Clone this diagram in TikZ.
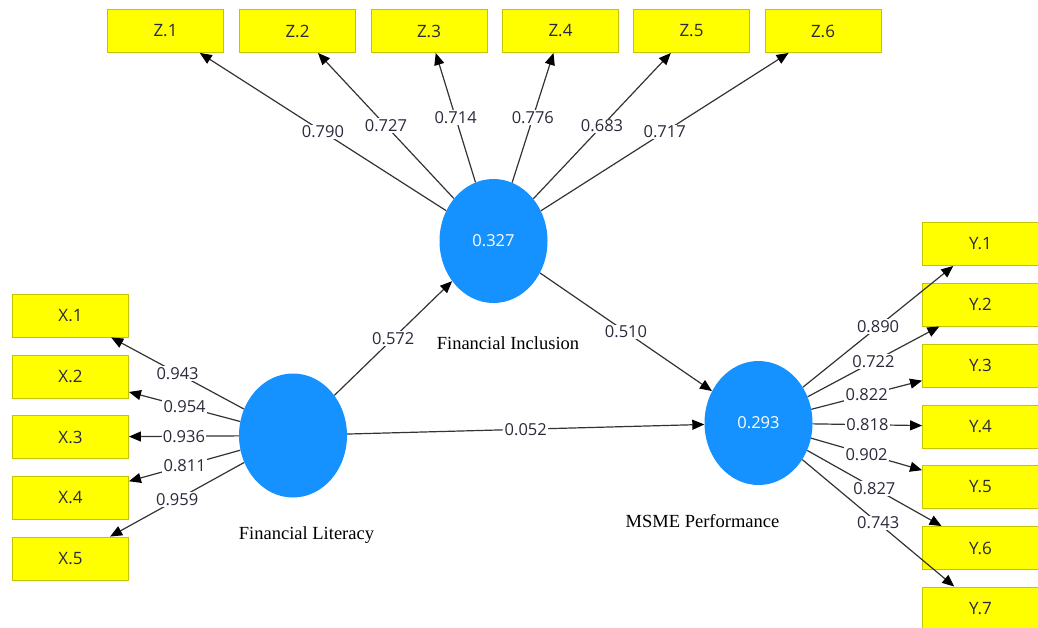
\documentclass[tikz,border=0pt]{standalone}
\usepackage{fontspec}
\setmainfont{Liberation Serif}
\newfontfamily\uifont{Open Sans}
\usetikzlibrary{shapes.geometric,arrows.meta}
\definecolor{latentblue}{HTML}{1592FF}
\definecolor{itemfill}{HTML}{FFFF00}
\definecolor{itemedge}{HTML}{C4C400}
\definecolor{linkgray}{HTML}{333333}
\definecolor{numink}{HTML}{2A2A3C}
\tikzset{
  item/.style={draw=itemedge, fill=itemfill, line width=0.9pt,
    minimum width=116pt, minimum height=43pt, inner sep=0pt,
    font=\uifont\fontsize{17}{19}\selectfont, text=numink},
  latent/.style={ellipse, fill=latentblue, draw=none,
    minimum width=108pt, minimum height=124pt, inner sep=0pt,
    font=\uifont\fontsize{16.5}{18}\selectfont, text=white},
  link/.style={draw=linkgray, line width=1.2pt,
    -{Triangle[length=12pt,width=10pt,color=black]}},
  val/.style={fill=white, inner sep=1.2pt, text=numink,
    font=\uifont\fontsize{16.5}{18}\selectfont},
  construct/.style={font=\fontsize{18.5}{20}\selectfont, text=black}
}
\begin{document}
\begin{tikzpicture}[x=1pt,y=-1pt]
\useasboundingbox (0,0) rectangle (1038,628);
\clip (0,0) rectangle (1038,628);

% latent variables
\node[latent] (fi) at (493.5,241) {0.327};
\node[latent] (fl) at (293,435.5) {};
\node[latent] (ms) at (758.5,423) {0.293};

\node[construct] (finame) at (508,343) {Financial Inclusion};
\node[construct] (flname) at (306.5,535) {Financial Literacy};
\node[construct] (msname) at (702.5,521) {MSME Performance};

% indicators of Financial Inclusion
\node[item] (z1) at (165.5,31) {Z.1};
\node[item] (z2) at (297.5,31) {Z.2};
\node[item] (z3) at (429,31) {Z.3};
\node[item] (z4) at (560.5,31) {Z.4};
\node[item] (z5) at (691.5,31) {Z.5};
\node[item] (z6) at (823,31) {Z.6};

% indicators of Financial Literacy
\node[item] (x1) at (70.5,315.5) {X.1};
\node[item] (x2) at (70.5,376.5) {X.2};
\node[item] (x3) at (70.5,437) {X.3};
\node[item] (x4) at (70.5,497.5) {X.4};
\node[item] (x5) at (70.5,558.5) {X.5};

% indicators of MSME Performance
\node[item] (y1) at (980.5,244) {Y.1};
\node[item] (y2) at (980.5,304.5) {Y.2};
\node[item] (y3) at (980.5,365.5) {Y.3};
\node[item] (y4) at (980.5,426.5) {Y.4};
\node[item] (y5) at (980.5,487) {Y.5};
\node[item] (y6) at (980.5,548) {Y.6};
\node[item] (y7) at (980.5,608.5) {Y.7};

% outer loadings
\draw[link] (fi) -- node[val] {0.790} (z1);
\draw[link] (fi) -- node[val] {0.727} (z2);
\draw[link] (fi) -- node[val] {0.714} (z3);
\draw[link] (fi) -- node[val] {0.776} (z4);
\draw[link] (fi) -- node[val] {0.683} (z5);
\draw[link] (fi) -- node[val] {0.717} (z6);

\draw[link] (fl) -- node[val] {0.943} (x1);
\draw[link] (fl) -- node[val] {0.954} (x2);
\draw[link] (fl) -- node[val] {0.936} (x3);
\draw[link] (fl) -- node[val] {0.811} (x4);
\draw[link] (fl) -- node[val] {0.959} (x5);

\draw[link] (ms) -- node[val] {0.890} (y1);
\draw[link] (ms) -- node[val] {0.722} (y2);
\draw[link] (ms) -- node[val] {0.822} (y3);
\draw[link] (ms) -- node[val] {0.818} (y4);
\draw[link] (ms) -- node[val] {0.902} (y5);
\draw[link] (ms) -- node[val] {0.827} (y6);
\draw[link] (ms) -- node[val] {0.743} (y7);

% structural paths
\draw[link] (fl) -- node[val] {0.572} (fi);
\draw[link] (fi) -- node[val] {0.510} (ms);
\draw[link] (fl) -- node[val] {0.052} (ms);
\end{tikzpicture}
\end{document}
